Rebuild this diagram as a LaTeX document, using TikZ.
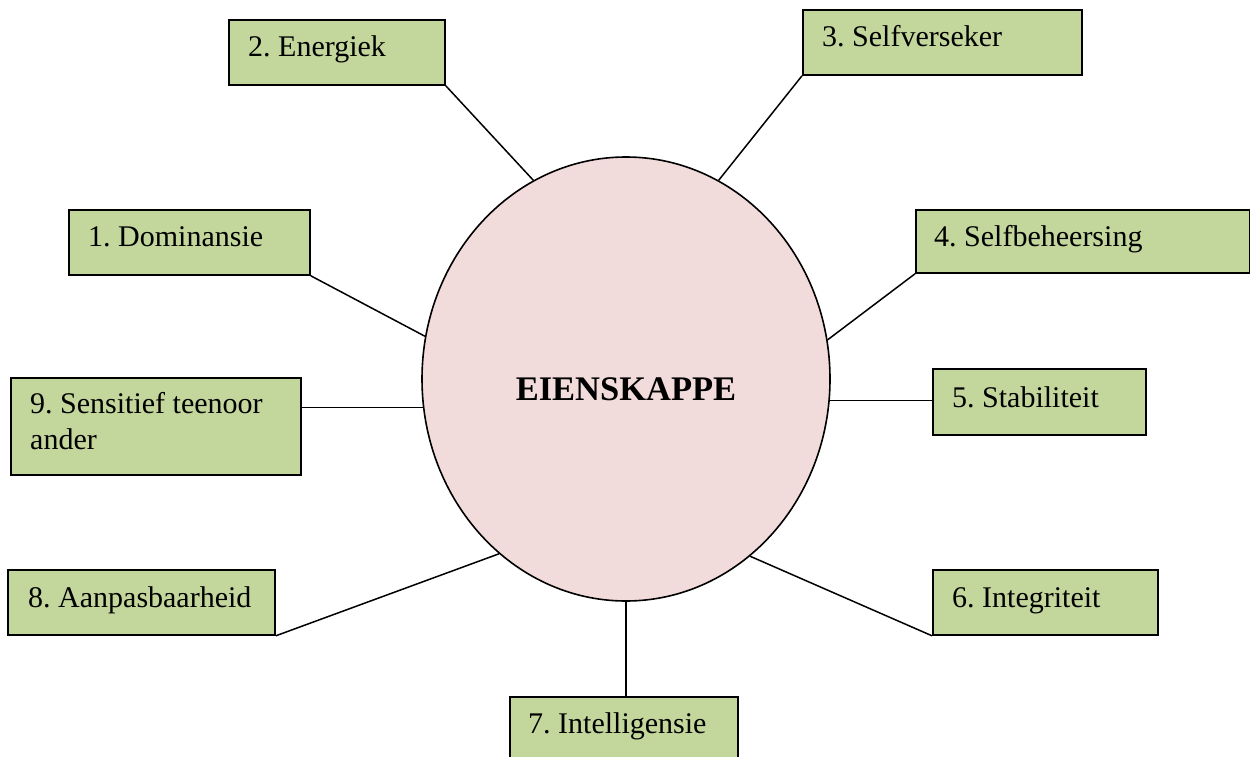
\documentclass[tikz,border=0pt]{standalone}
\usepackage{fontspec}
\setmainfont{Liberation Serif}
\usetikzlibrary{shapes.geometric}
\definecolor{boxgreen}{HTML}{C3D69B}
\definecolor{ellpink}{HTML}{F2DCDB}
\frenchspacing
\begin{document}
\begin{tikzpicture}[x=1pt,y=-1pt,
  boxnode/.style={draw=black, line width=1.8pt, fill=boxgreen, rectangle, inner sep=0pt, anchor=north west},
  lbl/.style={anchor=base west, inner sep=0pt, font=\fontsize{30}{36}\selectfont, align=left},
  conn/.style={draw=black, line width=1.5pt}]
\useasboundingbox (0,0) rectangle (1250,757);
\fill[white] (0,0) rectangle (1250,757);

\node[draw=black, line width=1.6pt, fill=ellpink, ellipse, minimum width=408pt, minimum height=444pt, inner sep=0pt] (ell) at (626,379) {};
\node[font=\fontsize{34.5}{40}\selectfont\bfseries, inner sep=0pt, anchor=base] (title) at (626,400.7) {EIENSKAPPE};

\node[boxnode, minimum width=241pt, minimum height=65pt] (b1) at (68,209) {};
\node[lbl] (t1) at (88,246) {1. Dominansie};
\node[boxnode, minimum width=216pt, minimum height=65pt] (b2) at (228,19) {};
\node[lbl] (t2) at (248,57) {2. Energiek};
\node[boxnode, minimum width=279pt, minimum height=65pt] (b3) at (802,9) {};
\node[lbl] (t3) at (822,47) {3. Selfverseker};
\node[boxnode, minimum width=334pt, minimum height=63pt] (b4) at (915,209) {};
\node[lbl] (t4) at (934,246) {4. Selfbeheersing};
\node[boxnode, minimum width=213pt, minimum height=66pt] (b5) at (932,368) {};
\node[lbl] (t5) at (952,407) {5. Stabiliteit};
\node[boxnode, minimum width=225pt, minimum height=65pt] (b6) at (932,569) {};
\node[lbl] (t6) at (952,607) {6. Integriteit};
\node[boxnode, minimum width=228pt, minimum height=70pt] (b7) at (509,696) {};
\node[lbl] (t7) at (528,733) {7. Intelligensie};
\node[boxnode, minimum width=267pt, minimum height=65pt] (b8) at (7,569) {};
\node[lbl] (t8) at (28,607) {8. Aanpasbaarheid};
\node[boxnode, minimum width=290pt, minimum height=97pt] (b9) at (10,377) {};
\node[lbl] (t9) at (30,449) {9. Sensitief teenoor\\ander};

\draw[conn] (b2.south east) -- (ell.115.4);
\draw[conn] (b3.south west) -- (ell.65.9);
\draw[conn] (b1.south east) -- (ell.168.6);
\draw[conn] (b4.south west) -- (ell.11.4);
\draw[conn] (ell.188.1) -- (b9.east |- ell.188.1);
\draw[conn] (ell.354.7) -- (b5.west |- ell.354.7);
\draw[conn] (b8.south east) -- (ell.234.7);
\draw[conn] (b6.south west) -- (ell.305.9);
\draw[conn] (ell.south) -- (ell.south |- b7.north);
\end{tikzpicture}
\end{document}
